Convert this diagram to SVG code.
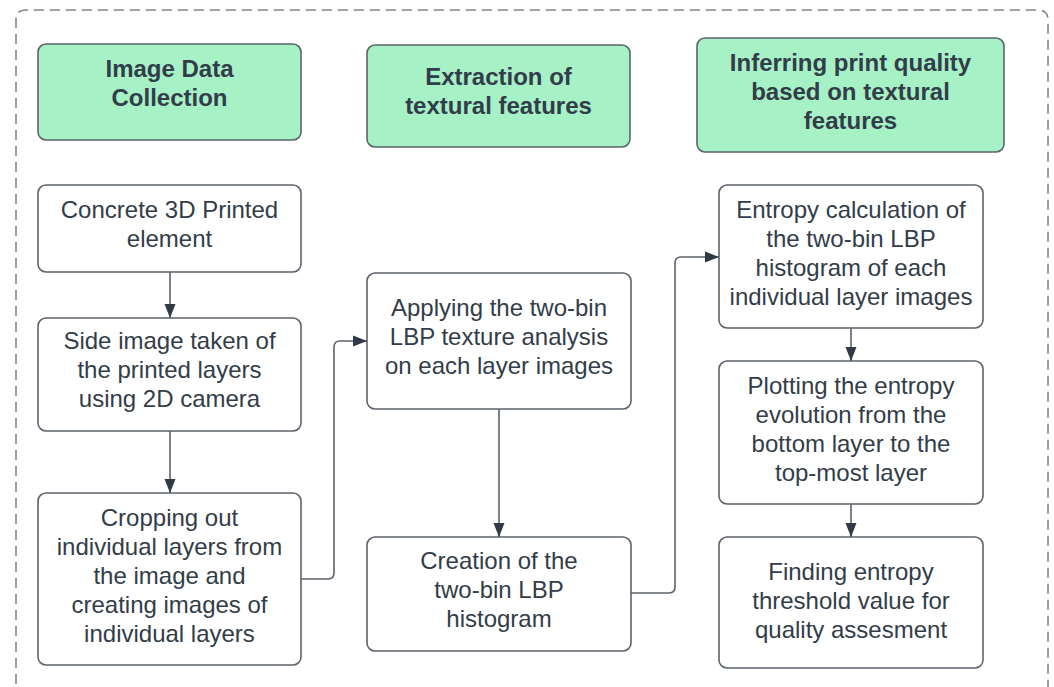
<svg xmlns="http://www.w3.org/2000/svg" width="1054" height="687" viewBox="0 0 1054 687">
  <style>
    .frame { fill: none; stroke: #80868d; stroke-width: 1.6; stroke-dasharray: 10 6; }
    .head rect { fill: #a6f1c6; stroke: #5c636b; stroke-width: 1.6; }
    .step rect { fill: #ffffff; stroke: #5c636b; stroke-width: 1.6; }
    text { font-family: "Liberation Sans", Arial, sans-serif; font-size: 24px; fill: #323d49; text-anchor: middle; }
    .head text { font-weight: bold; }
    .wire { fill: none; stroke: #5c636b; stroke-width: 1.6; }
  </style>
  <defs>
    <marker id="arrow" viewBox="0 0 14 12" refX="14" refY="6" markerWidth="14" markerHeight="12" markerUnits="userSpaceOnUse" orient="auto">
      <path d="M0,0.5 L14,6 L0,11.5 Z" fill="#2f3a46"/>
    </marker>
  </defs>

  <rect width="1054" height="687" fill="#ffffff"/>
  <!-- dashed outer frame (open at the bottom edge) -->
  <path class="frame" d="M16,700 L16,20 Q16,10 26,10 L1038,10 Q1048,10 1048,20 L1048,700"/>

  <!-- column headers -->
  <g id="head-collection" class="head">
    <rect x="38" y="44" width="263" height="96" rx="8"/>
    <text x="169.5" y="77">Image Data</text>
    <text x="169.5" y="106">Collection</text>
  </g>
  <g id="head-extraction" class="head">
    <rect x="367" y="45" width="263" height="102" rx="8"/>
    <text x="498.5" y="85">Extraction of</text>
    <text x="498.5" y="114">textural features</text>
  </g>
  <g id="head-inferring" class="head">
    <rect x="697" y="38" width="307" height="114" rx="8"/>
    <text x="850.5" y="71">Inferring print quality</text>
    <text x="850.5" y="100">based on textural</text>
    <text x="850.5" y="129">features</text>
  </g>

  <!-- left column -->
  <g id="step-element" class="step">
    <rect x="38" y="185" width="263" height="87" rx="8"/>
    <text x="169.5" y="218">Concrete 3D Printed</text>
    <text x="169.5" y="247">element</text>
  </g>
  <g id="step-side-image" class="step">
    <rect x="38" y="318" width="263" height="113" rx="8"/>
    <text x="169.5" y="349">Side image taken of</text>
    <text x="169.5" y="378">the printed layers</text>
    <text x="169.5" y="407">using 2D camera</text>
  </g>
  <g id="step-cropping" class="step">
    <rect x="38" y="493" width="263" height="172" rx="8"/>
    <text x="169.5" y="526">Cropping out</text>
    <text x="169.5" y="555">individual layers from</text>
    <text x="169.5" y="584">the image and</text>
    <text x="169.5" y="613">creating images of</text>
    <text x="169.5" y="642">individual layers</text>
  </g>

  <!-- middle column -->
  <g id="step-lbp" class="step">
    <rect x="367" y="273" width="264" height="136" rx="8"/>
    <text x="499" y="316">Applying the two-bin</text>
    <text x="499" y="345">LBP texture analysis</text>
    <text x="499" y="374">on each layer images</text>
  </g>
  <g id="step-histogram" class="step">
    <rect x="367" y="537" width="264" height="114" rx="8"/>
    <text x="499" y="569">Creation of the</text>
    <text x="499" y="598">two-bin LBP</text>
    <text x="499" y="627">histogram</text>
  </g>

  <!-- right column -->
  <g id="step-entropy" class="step">
    <rect x="719" y="185" width="264" height="143" rx="8"/>
    <text x="851" y="218">Entropy calculation of</text>
    <text x="851" y="247">the two-bin LBP</text>
    <text x="851" y="276">histogram of each</text>
    <text x="851" y="305">individual layer images</text>
  </g>
  <g id="step-plotting" class="step">
    <rect x="719" y="361" width="264" height="143" rx="8"/>
    <text x="851" y="394">Plotting the entropy</text>
    <text x="851" y="423">evolution from the</text>
    <text x="851" y="452">bottom layer to the</text>
    <text x="851" y="481">top-most layer</text>
  </g>
  <g id="step-threshold" class="step">
    <rect x="719" y="537" width="264" height="131" rx="8"/>
    <text x="851" y="580">Finding entropy</text>
    <text x="851" y="609">threshold value for</text>
    <text x="851" y="638">quality assesment</text>
  </g>

  <!-- connectors -->
  <g id="connectors">
    <path class="wire" marker-end="url(#arrow)" d="M170,272 L170,318"/>
    <path class="wire" marker-end="url(#arrow)" d="M170,431 L170,493"/>
    <path class="wire" marker-end="url(#arrow)" d="M301,579 L328,579 Q334,579 334,573 L334,347 Q334,341 340,341 L367,341"/>
    <path class="wire" marker-end="url(#arrow)" d="M499,409 L499,537"/>
    <path class="wire" marker-end="url(#arrow)" d="M631,593 L669,593 Q675,593 675,587 L675,263 Q675,257 681,257 L719,257"/>
    <path class="wire" marker-end="url(#arrow)" d="M851,328 L851,361"/>
    <path class="wire" marker-end="url(#arrow)" d="M851,504 L851,537"/>
  </g>
</svg>
